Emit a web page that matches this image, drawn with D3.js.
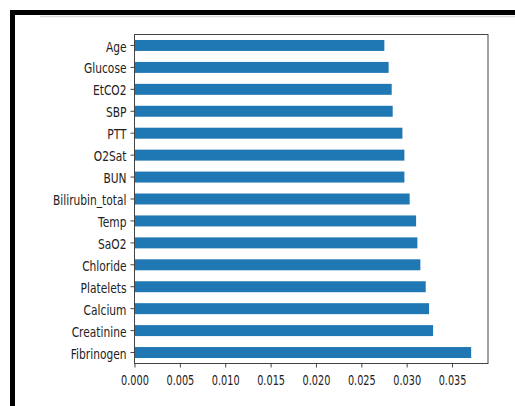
<!DOCTYPE html>
<html>
<head>
<meta charset="utf-8">
<script src="https://cdn.jsdelivr.net/npm/d3@7"></script>
<style>
  body { margin: 0; background: #fff; }
  svg { display: block; }
</style>
</head>
<body>
<div id="chart"></div>
<script>
// feature names, top to bottom as drawn
let features = ["Age", "Glucose", "EtCO2", "SBP", "PTT", "O2Sat", "BUN",
  "Bilirubin_total", "Temp", "SaO2", "Chloride", "Platelets", "Calcium",
  "Creatinine", "Fibrinogen"];

// importance value for each feature (same order)
let importances = [0.02754, 0.02801, 0.02835, 0.02846, 0.02953, 0.02975, 0.02975,
  0.03033, 0.03104, 0.03118, 0.03151, 0.03210, 0.03247, 0.03291, 0.03711];

let xTicks = [0, 0.005, 0.01, 0.015, 0.02, 0.025, 0.03, 0.035];

let width = 515;
let height = 406;
let plot = {left: 134.5, right: 488, top: 34.5, bottom: 363.5};

let svg = d3.select("#chart")
  .append("svg")
  .attr("width", width)
  .attr("height", height);

// screenshot frame: thick black edges at top and left, faint grey line below
svg.append("rect")
  .attr("x", 10).attr("y", 10)
  .attr("width", width - 10).attr("height", 5)
  .attr("fill", "#000");
svg.append("rect")
  .attr("x", 10).attr("y", 10)
  .attr("width", 5).attr("height", height - 10)
  .attr("fill", "#000");
svg.append("line")
  .attr("x1", 40).attr("x2", width)
  .attr("y1", 16.5).attr("y2", 16.5)
  .attr("stroke", "#d8d8d8")
  .attr("stroke-width", 1.5);

// scales (pandas barh leaves 5% margin past the longest bar)
let xScale = d3.scaleLinear()
  .domain([0, d3.max(importances) * 1.05])
  .range([plot.left, plot.right]);

let yScale = d3.scaleBand()
  .domain(features)
  .range([plot.top, plot.bottom])
  .paddingInner(0.5)
  .paddingOuter(0.25);

// bars
svg.append("g")
  .selectAll("rect")
  .data(features)
  .enter()
  .append("rect")
  .attr("x", xScale(0))
  .attr("y", d => yScale(d))
  .attr("width", (d, i) => xScale(importances[i]) - xScale(0))
  .attr("height", yScale.bandwidth())
  .attr("fill", "#1f77b4");

// axes frame
svg.append("rect")
  .attr("x", plot.left).attr("y", plot.top)
  .attr("width", plot.right - plot.left)
  .attr("height", plot.bottom - plot.top)
  .attr("fill", "none")
  .attr("stroke", "#444")
  .attr("stroke-width", 1);

// x axis
let xAxisG = svg.append("g")
  .attr("transform", "translate(0," + plot.bottom + ")")
  .call(d3.axisBottom(xScale).tickValues(xTicks).tickFormat(d3.format(".3f"))
    .tickSize(4).tickPadding(8));
xAxisG.select(".domain").remove();
xAxisG.selectAll("line").attr("stroke", "#444");
xAxisG.selectAll("text")
  .attr("fill", "#222")
  .style("font-family", "DejaVu Sans")
  .style("font-size", "13.5px")
  .attr("transform", "scale(0.72,1)");

// y axis
let ySx = 0.79;
let yAxisG = svg.append("g")
  .attr("transform", "translate(" + plot.left + ",0)")
  .call(d3.axisLeft(yScale).tickSize(4).tickPadding(4));
yAxisG.select(".domain").remove();
yAxisG.selectAll("line").attr("stroke", "#444");
yAxisG.selectAll("text")
  .attr("fill", "#222")
  .attr("x", -8 / ySx)
  .attr("dy", "0.45em")
  .style("font-family", "DejaVu Sans")
  .style("font-size", "13.5px")
  .attr("transform", "scale(" + ySx + ",1)");
</script>
</body>
</html>
